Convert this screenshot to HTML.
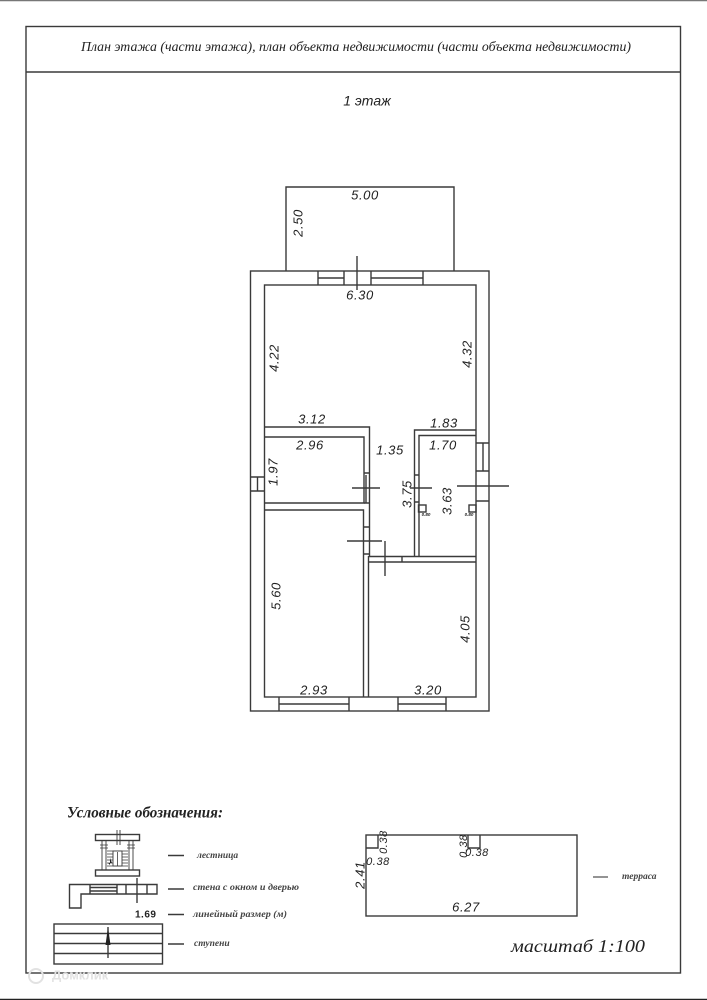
<!DOCTYPE html>
<html lang="ru">
<head>
<meta charset="utf-8">
<style>
html,body{margin:0;padding:0;background:#fff;width:707px;height:1000px;overflow:hidden}
svg{display:block}
.d{font:italic 13px "Liberation Sans",sans-serif;fill:#222;letter-spacing:.6px;text-anchor:middle;dominant-baseline:middle}
.s{font:italic bold 4.5px "Liberation Sans",sans-serif;fill:#222;text-anchor:middle;dominant-baseline:middle}
.l{font:italic bold 9.5px "Liberation Serif",serif;fill:#444;dominant-baseline:middle}
</style>
</head>
<body>
<svg width="707" height="1000" viewBox="0 0 707 1000" xmlns="http://www.w3.org/2000/svg">
<rect width="707" height="1000" fill="#fff"/>
<g fill="none" stroke="#3a3a3a" stroke-width="1.4">
<!-- page frame -->
<path d="M0 .5H707" stroke="#777"/>
<rect x="26" y="26.500" width="654.500" height="946.500"/>
<path d="M26 72H680.500"/>
<path d="M0 999.500H707" stroke="#222"/>

<!-- porch -->
<path d="M286 271V187H454V271"/>
<!-- outer walls -->
<rect x="250.500" y="271" width="238.500" height="440"/>
<rect x="264.500" y="285" width="211.500" height="412"/>
<!-- top window/door -->
<path d="M318 271V285M344 271V285M371 271V285M423 271V285M318 278H344M371 278H423"/>
<path d="M357 256V290"/>
<!-- left window -->
<path d="M250.500 477H264.500M250.500 491H264.500M257.500 477V491"/>
<!-- right window -->
<path d="M476 443H489M476 471H489M483 443V471M476 501H489"/>
<path d="M457 486H509"/>
<!-- bottom windows -->
<path d="M279 697V711M349 697V711M279 704H349M398 697V711M446 697V711M398 704H446"/>
<!-- room 2.96 -->
<path d="M264.500 427H369.500V556M264.500 437H364V503H264.500M264.500 510H363.500V697M368.500 556V697"/>
<path d="M364 473H369.500M364 503H369.500"/>
<path d="M352 488H380M366 475V503"/>
<!-- lower left door -->
<path d="M363.500 527H369M363.500 554H369M347 541H382"/>
<!-- right room -->
<path d="M476 430H414.500V556M476 435.500H419V556"/>
<path d="M414.500 475H419M414.500 502H419M410 488H432"/>
<!-- lower right room wall -->
<path d="M368.500 556.500H476M368.500 562H476M402 556.500V562M385 541V576"/>
<!-- small squares -->
<rect x="418.500" y="505" width="7.500" height="7"/>
<rect x="469" y="505" width="7" height="7"/>

<!-- legend: stairs -->
<rect x="95.500" y="834.500" width="44" height="6"/>
<rect x="95.500" y="870" width="44" height="6"/>
<path d="M102 840.500V870M106 840.500V870M129 840.500V870M133 840.500V870M120 830V845M117 830V845" stroke-width=".9"/>
<path d="M100 845H108M127 845H135M100 848H108M127 848H135" stroke-width=".8"/>
<path d="M107 851H128M107 854H128M107 857H128M107 860H128M107 863H128M107 866H128" stroke-width=".8"/>
<rect x="113" y="851" width="9" height="15" fill="#fff" stroke-width=".9"/>
<path d="M117.500 852V866" stroke-width=".8"/>
<!-- legend: wall -->
<path d="M69.500 884.500H157V894H81V908H69.500Z"/>
<path d="M90 884.500V894M117 884.500V894M126 884.500V894M147 884.500V894M90 887.500H117M90 891H117"/>
<path d="M137 878V903"/>
<!-- legend: steps -->
<rect x="54" y="924" width="108.500" height="40"/>
<path d="M54 933.500H162.500M54 943.500H162.500M54 953.500H162.500"/>
<path d="M108 927V958"/>
<!-- legend dashes -->
<path d="M168 855.500H184M168 889H184M168 914.500H184M168 944H184"/>

<!-- terrace -->
<rect x="366" y="835" width="211" height="81"/>
<path d="M366 848H378V835M468 835V848H480V835"/>
<path d="M593 877H608" stroke="#666" stroke-width="1.400"/>
</g>
<path d="M108 927L105.500 945H110.500Z" fill="#222"/>
<path d="M110 858v7l-2 -2h4z" fill="#222"/>

<!-- headings -->
<text x="356" y="48" text-anchor="middle" dominant-baseline="middle" font-family="'Liberation Serif',serif" font-style="italic" font-size="13.200" fill="#222" textLength="550" lengthAdjust="spacingAndGlyphs">План этажа (части этажа), план объекта недвижимости (части объекта недвижимости)</text>
<text x="367" y="102" text-anchor="middle" dominant-baseline="middle" font-family="'Liberation Sans',sans-serif" font-style="italic" font-size="14" fill="#222">1 этаж</text>

<!-- dimensions -->
<text class="d" x="365" y="196">5.00</text>
<text class="d" transform="translate(299,223) rotate(-90)">2.50</text>
<text class="d" x="360" y="296">6.30</text>
<text class="d" transform="translate(275,358) rotate(-90)">4.22</text>
<text class="d" transform="translate(468,354) rotate(-90)">4.32</text>
<text class="d" x="312" y="420">3.12</text>
<text class="d" x="444" y="424">1.83</text>
<text class="d" x="310" y="446">2.96</text>
<text class="d" x="390" y="451">1.35</text>
<text class="d" x="443" y="446">1.70</text>
<text class="d" transform="translate(274,472) rotate(-90)">1.97</text>
<text class="d" transform="translate(408,494) rotate(-90)">3.75</text>
<text class="d" transform="translate(448,501) rotate(-90)">3.63</text>
<text class="d" transform="translate(277,596) rotate(-90)">5.60</text>
<text class="d" transform="translate(466,629) rotate(-90)">4.05</text>
<text class="d" x="314" y="691">2.93</text>
<text class="d" x="428" y="691">3.20</text>
<text class="s" x="426" y="515">0.80</text>
<text class="s" x="469" y="515">0.80</text>

<!-- terrace dimensions -->
<text class="d" transform="translate(361,875) rotate(-90)" style="font-size:13px">2.41</text>
<text class="d" x="378" y="862" style="font-size:11px">0.38</text>
<text class="d" transform="translate(384,842) rotate(-90)" style="font-size:11px">0.38</text>
<text class="d" x="477" y="853" style="font-size:11px">0.38</text>
<text class="d" transform="translate(464,846) rotate(-90)" style="font-size:11px">0.38</text>
<text class="d" x="466" y="908">6.27</text>

<!-- legend text -->
<text x="67" y="814" font-family="'Liberation Serif',serif" font-style="italic" font-weight="bold" font-size="16" fill="#222" dominant-baseline="middle" textLength="156" lengthAdjust="spacingAndGlyphs">Условные обозначения:</text>
<text class="l" x="197" y="856">лестница</text>
<text class="l" x="193" y="888" textLength="106" lengthAdjust="spacingAndGlyphs">стена с окном и дверью</text>
<text x="135" y="915" font-family="'Liberation Sans',sans-serif" font-size="10" font-weight="bold" fill="#222" dominant-baseline="middle" letter-spacing=".5">1.69</text>
<text class="l" x="193" y="915" textLength="94" lengthAdjust="spacingAndGlyphs">линейный размер (м)</text>
<text class="l" x="194" y="944">ступени</text>
<text class="l" x="622" y="877">терраса</text>
<text x="511" y="948" font-family="'Liberation Serif',serif" font-style="italic" font-size="18" fill="#222" dominant-baseline="middle" textLength="134" lengthAdjust="spacingAndGlyphs">масштаб  1:100</text>

<!-- watermark -->
<text x="52" y="976" font-family="'Liberation Sans',sans-serif" font-weight="bold" font-size="13" fill="#e2e2e2" dominant-baseline="middle">Домклик</text>
<circle cx="36" cy="976" r="7" fill="none" stroke="#e2e2e2" stroke-width="2"/>
</svg>
</body>
</html>
